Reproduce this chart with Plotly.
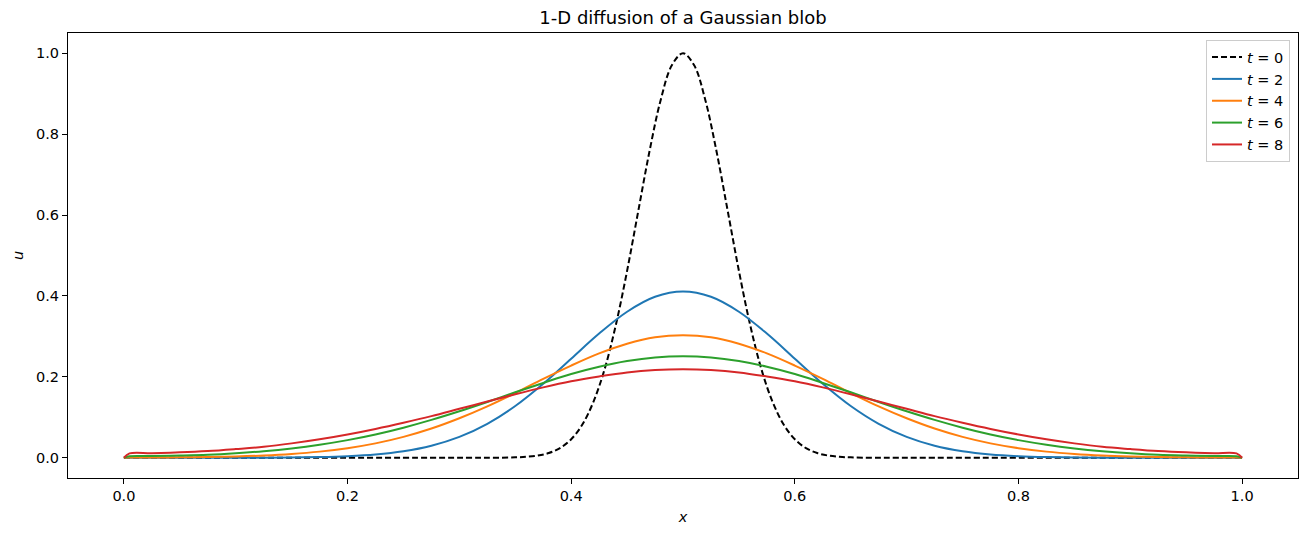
import plotly.graph_objects as go

# --- data ---
x_grid = [0.0, 0.005, 0.025, 0.05, 0.075, 0.1, 0.125, 0.15, 0.175, 0.2, 0.225, 0.25,
          0.275, 0.3, 0.325, 0.35, 0.375, 0.4, 0.425, 0.45, 0.475, 0.5,
          0.525, 0.55, 0.575, 0.6, 0.625, 0.65, 0.675, 0.7, 0.725, 0.75, 0.775,
          0.8, 0.825, 0.85, 0.875, 0.9, 0.925, 0.95, 0.975, 0.995, 1.0]

u_t2 = [0.0, 0.0, 0.0, 0.0, 0.0, 0.0001, 0.0003, 0.0007, 0.0017, 0.0039, 0.0081, 0.0161,
        0.0298, 0.0516, 0.084, 0.128, 0.183, 0.245, 0.307, 0.361, 0.398, 0.411,
        0.398, 0.361, 0.307, 0.245, 0.183, 0.128, 0.084, 0.0516, 0.0298, 0.0161, 0.0081,
        0.0039, 0.0017, 0.0007, 0.0003, 0.0001, 0.0, 0.0, 0.0, 0.0, 0.0]

u_t4 = [0.0, 0.0005, 0.0006, 0.0010, 0.0018, 0.0033, 0.0056, 0.0094, 0.0152, 0.0237, 0.0356, 0.0516,
        0.0722, 0.0976, 0.127, 0.160, 0.195, 0.228, 0.258, 0.282, 0.298, 0.303,
        0.298, 0.282, 0.258, 0.228, 0.195, 0.160, 0.127, 0.0976, 0.0722, 0.0516, 0.0356,
        0.0237, 0.0152, 0.0094, 0.0056, 0.0033, 0.0018, 0.0010, 0.0006, 0.0005, 0.0]

u_t6 = [0.0, 0.0039, 0.0043, 0.0056, 0.0075, 0.0112, 0.0163, 0.0232, 0.0322, 0.0436, 0.0576, 0.0744,
        0.0937, 0.115, 0.138, 0.162, 0.185, 0.207, 0.225, 0.239, 0.248, 0.251,
        0.248, 0.239, 0.225, 0.207, 0.185, 0.162, 0.138, 0.115, 0.0937, 0.0744, 0.0576,
        0.0436, 0.0322, 0.0232, 0.0163, 0.0112, 0.0075, 0.0056, 0.0043, 0.0039, 0.0]

u_t8 = [0.0, 0.0108, 0.0114, 0.0134, 0.0166, 0.0215, 0.0272, 0.0356, 0.0457, 0.0576, 0.0713, 0.0866,
        0.103, 0.121, 0.139, 0.157, 0.174, 0.189, 0.201, 0.211, 0.217, 0.219,
        0.217, 0.211, 0.201, 0.189, 0.174, 0.157, 0.139, 0.121, 0.103, 0.0866, 0.0713,
        0.0576, 0.0457, 0.0356, 0.0272, 0.0215, 0.0166, 0.0134, 0.0114, 0.0108, 0.0]

x0_grid = [0.0, 0.3, 0.33, 0.35, 0.36, 0.37, 0.38, 0.39, 0.40, 0.41, 0.42, 0.43, 0.44, 0.45,
           0.46, 0.47, 0.48, 0.49, 0.5, 0.51, 0.52, 0.53, 0.54, 0.55, 0.56, 0.57, 0.58,
           0.59, 0.60, 0.61, 0.62, 0.63, 0.64, 0.65, 0.67, 0.7, 1.0]
u_t0 = [0.0, 0.0, 0.0001, 0.0010, 0.0024, 0.0054, 0.0117, 0.0239, 0.0457, 0.0821, 0.139, 0.220,
        0.329, 0.462, 0.610, 0.757, 0.884, 0.970, 1.0, 0.970, 0.884, 0.757, 0.610, 0.462,
        0.329, 0.220, 0.139, 0.0821, 0.0457, 0.0239, 0.0117, 0.0054, 0.0024, 0.0010,
        0.0001, 0.0, 0.0]

series = [
    ("<i>t</i> = 2", u_t2, "#1f77b4"),
    ("<i>t</i> = 4", u_t4, "#ff7f0e"),
    ("<i>t</i> = 6", u_t6, "#2ca02c"),
    ("<i>t</i> = 8", u_t8, "#d62728"),
]

x_ticks = [0.0, 0.2, 0.4, 0.6, 0.8, 1.0]
y_ticks = [0.0, 0.2, 0.4, 0.6, 0.8, 1.0]

FONT = "DejaVu Sans"

fig = go.Figure()
fig.add_trace(go.Scatter(
    x=x0_grid, y=u_t0, mode="lines", name="<i>t</i> = 0",
    line=dict(color="black", width=2, dash="6px,3px", shape="spline", smoothing=1.0),
))
for name, vals, col in series:
    fig.add_trace(go.Scatter(
        x=x_grid, y=vals, mode="lines", name=name,
        line=dict(color=col, width=2, shape="spline", smoothing=1.0),
    ))

axis_common = dict(
    showline=True, mirror=True, linecolor="black", linewidth=1,
    ticks="outside", ticklen=5, tickwidth=1, tickcolor="black",
    showgrid=False, zeroline=False,
    tickfont=dict(family=FONT, size=14.5, color="black"),
)

fig.update_layout(
    width=1308, height=536,
    margin=dict(l=68, r=10, t=33, b=58, autoexpand=False),
    paper_bgcolor="white", plot_bgcolor="white",
    title=dict(text="1-D diffusion of a Gaussian blob", x=0.5, xref="paper",
               y=1 - 18 / 536, yanchor="middle",
               font=dict(family=FONT, size=18, color="black")),
    xaxis=dict(range=[-0.05, 1.05], tickvals=x_ticks, tickformat=".1f",
               title=dict(text="<i>x</i>", standoff=8,
                          font=dict(family=FONT, size=14.5, color="black")),
               **axis_common),
    yaxis=dict(range=[-0.05, 1.05], tickvals=y_ticks, tickformat=".1f",
               title=dict(text="<i>u</i>", standoff=8,
                          font=dict(family=FONT, size=14.5, color="black")),
               **axis_common),
    legend=dict(x=0.9935, y=0.984, xanchor="right", yanchor="top",
                bgcolor="rgba(255,255,255,0.8)", bordercolor="#cccccc", borderwidth=1,
                font=dict(family=FONT, size=14.5, color="black"), itemwidth=30),
    showlegend=True,
)

fig.write_html("out.html")
